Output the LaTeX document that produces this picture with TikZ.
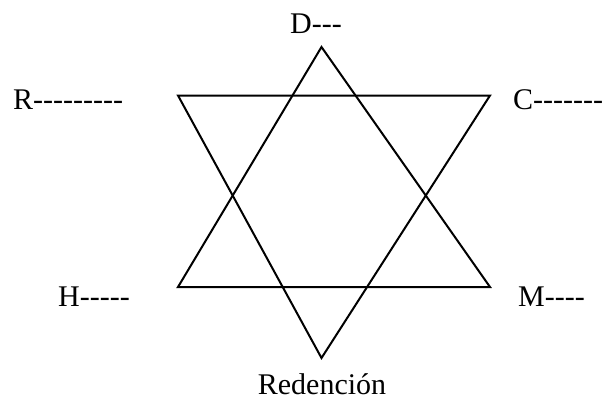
\documentclass[tikz,border=0pt]{standalone}
\usepackage{fontspec}
\setmainfont{Liberation Serif}[Ligatures=TeXOff]
\begin{document}
\begin{tikzpicture}[x=1pt,y=-1pt,
  lbl/.style={inner sep=0pt,font=\fontsize{30}{30}\selectfont},
  edge/.style={line width=2pt,line join=miter}]
\useasboundingbox (0,0) rectangle (605,407);
\coordinate (top) at (321.5,47);
\coordinate (bot) at (321.5,358);
\coordinate (tl) at (178,95.5);
\coordinate (tr) at (490,95.5);
\coordinate (bl) at (178,287);
\coordinate (br) at (490,287);
\draw[edge] (top) -- (br) -- (bl) -- cycle;
\draw[edge] (tl) -- (tr) -- (bot) -- cycle;
\node[lbl,anchor=base west] (D) at (290,33) {D---};
\node[lbl,anchor=base west] (R) at (13,109) {R---------};
\node[lbl,anchor=base west] (C) at (513,109) {C-------};
\node[lbl,anchor=base west] (H) at (58,306) {H-----};
\node[lbl,anchor=base west] (M) at (518,306) {M----};
\node[lbl,anchor=base] (Re) at (322,394) {Redención};
\end{tikzpicture}
\end{document}
